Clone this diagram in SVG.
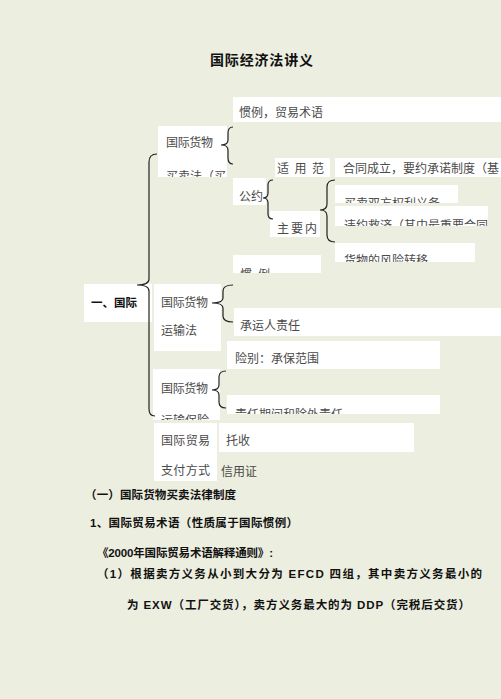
<svg xmlns="http://www.w3.org/2000/svg" width="501" height="699" viewBox="0 0 501 699">
<style>
.bg{fill:#ECEEDF}
.box{fill:#FFFFFF}
.t{font-family:"Liberation Serif","Noto Sans CJK SC",serif;font-size:12px;fill:#4a4a4a}
.b{font-family:"Liberation Sans","Noto Sans CJK SC",sans-serif;font-weight:bold;fill:#111}
.br{fill:none;stroke:#222;stroke-width:1.2}
</style>
<defs>
<clipPath id="c1"><rect x="158" y="126" width="69" height="51"/></clipPath>
<clipPath id="c2"><rect x="335" y="185" width="123" height="18"/></clipPath>
<clipPath id="c3"><rect x="335" y="206" width="153" height="20"/></clipPath>
<clipPath id="c4"><rect x="335" y="243" width="140" height="19"/></clipPath>
<clipPath id="c5"><rect x="233" y="255" width="88" height="18"/></clipPath>
<clipPath id="c6"><rect x="153" y="369" width="67" height="51"/></clipPath>
<clipPath id="c7"><rect x="227" y="395" width="213" height="19"/></clipPath>
</defs>
<rect class="bg" x="0" y="0" width="501" height="699"/>

<g id="title"><text class="b" x="210" y="65" font-size="14" textLength="103">国际经济法讲义</text></g>

<g id="n-guanli"><rect class="box" x="233" y="97" width="268" height="25"/><text class="t" x="239" y="117">惯例，贸易术语</text></g>
<g id="n-maimai"><rect class="box" x="158" y="126" width="69" height="51"/><g clip-path="url(#c1)"><text class="t" x="166" y="147" textLength="47">国际货物</text><text class="t" x="166" y="181">买卖法（买</text></g></g>
<g id="n-shiyong"><rect class="box" x="275" y="158" width="55" height="19"/><text class="t" x="277" y="173" textLength="47">适 用 范</text></g>
<g id="n-hetong"><rect class="box" x="335" y="158" width="166" height="19"/><text class="t" x="343" y="173">合同成立，要约承诺制度（基</text></g>
<g id="n-gongyue"><rect class="box" x="233" y="178" width="33" height="27"/><text class="t" x="239" y="201">公约</text></g>
<g id="n-zhuyao"><rect class="box" x="270" y="211" width="50" height="26"/><text class="t" x="277" y="233" textLength="40">主 要 内</text></g>
<g id="n-quanli"><rect class="box" x="335" y="185" width="123" height="18"/><g clip-path="url(#c2)"><text class="t" x="344" y="208">买卖双方权利义务</text></g></g>
<g id="n-weiyue"><rect class="box" x="335" y="206" width="153" height="20"/><g clip-path="url(#c3)"><text class="t" x="344" y="230">违约救济（其中最重要合同</text></g></g>
<g id="n-fengxian"><rect class="box" x="335" y="243" width="140" height="19"/><g clip-path="url(#c4)"><text class="t" x="344" y="265">货物的风险转移</text></g></g>
<g id="n-guanli2"><rect class="box" x="233" y="255" width="88" height="18"/><g clip-path="url(#c5)"><text class="t" x="240" y="279" textLength="30">惯 例</text></g></g>

<g id="n-root"><rect class="box" x="84" y="284" width="68" height="38"/><text class="b" x="91" y="307" font-size="11.5" textLength="46">一、国际</text></g>

<g id="n-yunshu"><rect class="box" x="154" y="284" width="67" height="67"/><text class="t" x="161" y="307" textLength="47">国际货物</text><text class="t" x="161" y="335">运输法</text></g>
<g id="n-chengyun"><rect class="box" x="234" y="308" width="267" height="28"/><text class="t" x="240" y="330">承运人责任</text></g>
<g id="n-xianbie"><rect class="box" x="227" y="341" width="213" height="28"/><text class="t" x="235" y="363">险别：承保范围</text></g>
<g id="n-baoxian"><rect class="box" x="153" y="369" width="67" height="51"/><g clip-path="url(#c6)"><text class="t" x="161" y="393" textLength="47">国际货物</text><text class="t" x="161" y="425">运输保险</text></g></g>
<g id="n-zeren"><rect class="box" x="227" y="395" width="213" height="19"/><g clip-path="url(#c7)"><text class="t" x="235" y="419">责任期间和除外责任</text></g></g>
<g id="n-zhifu"><rect class="box" x="154" y="423" width="63" height="58"/><text class="t" x="161" y="445" textLength="49">国际贸易</text><text class="t" x="161" y="475" textLength="49">支付方式</text></g>
<g id="n-tuoshou"><rect class="box" x="219" y="423" width="195" height="29"/><text class="t" x="226" y="445" font-size="12.5">托收</text></g>
<g id="n-xinyong"><text class="t" x="221" y="476" font-size="11.5">信用证</text></g>

<g id="connectors">
<path class="br" d="M157 154 Q149 154 149 162 L149 279 Q149 285 137 285 Q149 285 149 291 L149 409 Q149 416 155 416"/>
<path class="br" d="M233 127 Q228 127 228 133 L228 140 Q228 145 221 145 Q228 145 228 150 L228 158 Q228 164 233 164"/>
<path class="br" d="M273 180 Q268 180 268 185 L268 193 Q268 198 263 198 Q268 198 268 203 L268 214 Q268 219 273 219"/>
<path class="br" d="M335 180 Q327 180 327 187 L327 204 Q327 210 320 210 Q327 210 327 216 L327 235 Q327 242 335 242"/>
<path class="br" d="M233 285 Q223 285 223 291 L223 298 Q223 303 212 303 Q223 303 223 308 L223 316 Q223 322 233 322"/>
<path class="br" d="M226 371 Q219 371 219 377 L219 385 Q219 390 212 390 Q219 390 219 395 L219 402 Q219 408 226 408"/>
</g>

<g id="body">
<text class="b" x="85" y="499" font-size="11.5" textLength="151">（一）国际货物买卖法律制度</text>
<text class="b" x="90" y="527" font-size="11.5" textLength="208">1、国际贸易术语（性质属于国际惯例）</text>
<text class="b" x="97" y="557" font-size="11.5" textLength="176">《2000年国际贸易术语解释通则》:</text>
<text class="b" x="97" y="578" font-size="11.5" textLength="385">（1）根据卖方义务从小到大分为 EFCD 四组，其中卖方义务最小的</text>
<text class="b" x="127" y="609" font-size="11.5" textLength="343">为 EXW（工厂交货），卖方义务最大的为 DDP（完税后交货）</text>
</g>
</svg>
